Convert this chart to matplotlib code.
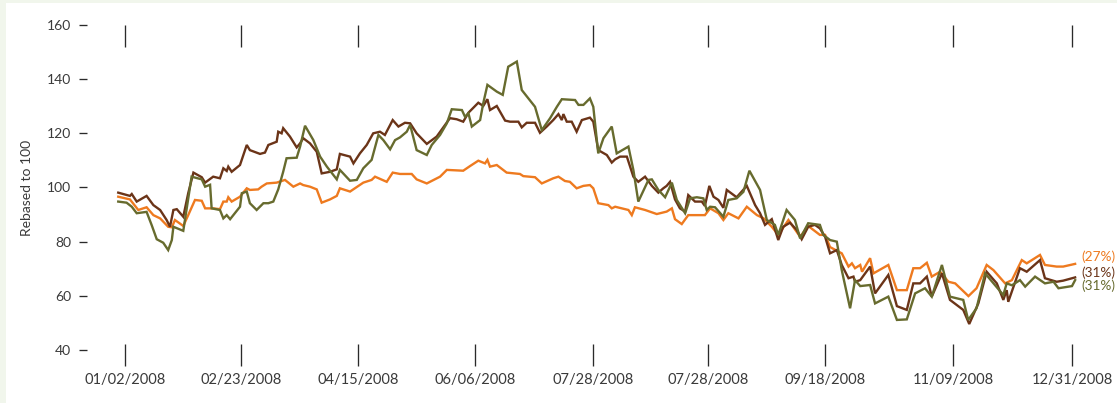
import matplotlib
matplotlib.use("Agg")
import matplotlib.pyplot as plt
from matplotlib.patches import Rectangle

# ---------------- data (x = days since 01/02/2008 on the chart's axis, y = rebased value) -------------
orange_series = [
    (-2.6, 96.6), (1.9, 95.6), (5.1, 91.7), (8.3, 92.7), (10.9, 89.8), (13.5, 88.6), (16.6, 85.5),
    (18.0, 85.3), (19.2, 88.0), (22.4, 85.8), (24.3, 89.8), (26.9, 95.4), (29.5, 95.1), (30.8, 92.3),
    (33.9, 92.3), (36.5, 92.0), (37.8, 94.8), (39.1, 94.8), (39.7, 96.4), (41.0, 94.8), (44.2, 96.6),
    (46.8, 99.7), (48.0, 99.1), (51.2, 99.3), (52.5, 100.3), (54.5, 101.5), (58.3, 101.8), (61.5, 102.8),
    (64.7, 100.3), (67.3, 101.5), (68.5, 100.9), (71.1, 100.3), (73.7, 99.3), (75.6, 94.4), (78.8, 95.6),
    (81.4, 96.9), (82.6, 99.7), (86.5, 98.5), (91.6, 101.8), (94.8, 102.8), (96.1, 104.0), (100.6, 102.1),
    (102.9, 105.5), (105.7, 105.0), (110.2, 105.0), (112.1, 103.0), (116.0, 101.5), (121.1, 104.0),
    (123.7, 106.5), (130.0, 106.2), (132.6, 107.9), (135.8, 109.9), (138.4, 108.9), (139.3, 110.2),
    (140.3, 107.7), (142.9, 108.3), (146.7, 105.5), (151.8, 105.0), (153.1, 104.2), (157.6, 103.8),
    (160.2, 101.5), (164.6, 103.4), (166.6, 104.0), (169.1, 102.4), (171.0, 102.1), (173.6, 99.7),
    (176.2, 100.6), (178.7, 100.9), (180.0, 99.7), (181.9, 94.2), (185.8, 93.5), (187.1, 92.3),
    (188.4, 92.9), (193.5, 91.7), (194.8, 89.8), (196.0, 92.7), (199.9, 91.7), (204.4, 90.2),
    (208.2, 91.1), (210.2, 92.3), (211.4, 88.3), (214.0, 86.5), (216.5, 89.8), (222.9, 89.8),
    (224.9, 92.3), (228.1, 90.5), (230.0, 88.0), (231.9, 90.5), (235.8, 88.6), (239.0, 92.9),
    (242.9, 89.8), (245.5, 88.6), (248.6, 85.5), (251.1, 82.5), (255.0, 88.0), (259.5, 81.8),
    (262.6, 85.8), (267.1, 82.5), (269.1, 82.5), (271.0, 78.0), (275.5, 75.7), (278.1, 70.8),
    (279.4, 72.0), (280.6, 70.2), (282.6, 71.4), (283.3, 68.9), (286.4, 73.9), (287.7, 68.3),
    (293.4, 71.4), (296.7, 62.1), (300.5, 62.1), (303.0, 70.2), (305.6, 70.2), (308.2, 72.2),
    (310.1, 67.1), (313.3, 68.9), (316.5, 65.2), (319.1, 64.6), (324.2, 59.9), (327.3, 62.8),
    (331.2, 71.4), (333.8, 69.5), (338.3, 64.6), (340.9, 65.8), (344.7, 73.2), (346.6, 72.0),
    (351.7, 75.1), (353.6, 71.4), (358.1, 70.8), (360.6, 70.8), (365.2, 71.8),
]

brown_series = [
    (-2.6, 98.1), (1.9, 96.9), (2.6, 97.6), (4.5, 94.8), (8.3, 96.9), (10.9, 93.5), (13.5, 91.7),
    (16.0, 88.0), (17.3, 85.5), (18.6, 91.7), (19.9, 92.0), (22.4, 89.2), (24.3, 97.9), (26.3, 105.5),
    (29.5, 103.8), (30.8, 101.8), (33.9, 104.0), (36.5, 103.4), (37.8, 107.1), (39.1, 106.1),
    (39.7, 107.7), (41.0, 105.8), (44.2, 108.3), (46.8, 115.7), (48.0, 113.8), (51.9, 112.4),
    (53.8, 112.9), (55.1, 115.7), (58.3, 116.9), (58.9, 120.6), (60.2, 120.0), (60.8, 121.9),
    (63.4, 118.8), (66.0, 114.8), (67.3, 116.3), (68.5, 118.2), (71.1, 116.3), (73.7, 113.2),
    (75.6, 105.2), (78.8, 105.8), (81.4, 106.7), (82.6, 112.4), (86.5, 111.4), (87.8, 108.9),
    (90.3, 112.6), (92.9, 115.7), (95.4, 120.0), (98.0, 120.6), (99.9, 119.4), (102.9, 124.9),
    (105.1, 122.5), (107.6, 123.9), (109.6, 123.7), (112.1, 120.0), (116.0, 116.1), (119.8, 118.8),
    (123.0, 123.1), (124.9, 125.6), (127.5, 125.2), (130.0, 124.3), (132.0, 127.6), (135.8, 131.3),
    (137.7, 130.1), (139.3, 132.6), (140.3, 128.6), (142.9, 130.1), (146.1, 124.7), (148.0, 124.3),
    (151.2, 124.3), (152.5, 122.2), (154.4, 123.9), (157.6, 123.9), (159.5, 120.2), (162.1, 122.5),
    (164.6, 124.9), (166.6, 127.1), (167.9, 124.9), (168.5, 127.1), (169.8, 124.3), (171.7, 124.3),
    (173.6, 120.6), (175.6, 124.9), (178.7, 125.8), (180.0, 124.3), (181.9, 113.8), (185.2, 112.0),
    (187.1, 109.2), (188.4, 110.4), (190.3, 111.4), (192.9, 111.4), (195.4, 104.0), (197.3, 102.1),
    (199.9, 104.0), (202.5, 100.6), (205.0, 98.1), (206.9, 99.7), (208.2, 100.6), (209.5, 102.1),
    (211.4, 95.6), (213.3, 92.3), (215.3, 91.1), (216.5, 97.2), (219.1, 94.8), (221.7, 94.8),
    (222.9, 93.2), (224.6, 100.6), (226.2, 96.6), (228.1, 95.4), (230.0, 92.5), (231.3, 99.1),
    (235.1, 96.4), (239.0, 100.6), (242.2, 93.5), (244.1, 90.5), (246.0, 86.2), (248.6, 88.3),
    (251.1, 80.6), (253.0, 85.5), (255.6, 87.0), (258.2, 84.3), (260.1, 80.9), (262.6, 85.5),
    (265.2, 86.2), (267.1, 84.9), (269.1, 81.8), (271.0, 75.7), (273.6, 76.9), (275.5, 71.4),
    (278.1, 66.5), (280.0, 67.1), (280.6, 65.2), (282.6, 65.8), (286.4, 70.8), (288.3, 60.9),
    (293.4, 67.7), (296.7, 56.2), (300.5, 54.8), (303.0, 64.6), (305.6, 64.6), (308.2, 67.1),
    (310.1, 59.7), (314.0, 68.3), (317.1, 58.5), (322.2, 54.8), (324.5, 49.6), (328.0, 57.2),
    (331.2, 68.9), (335.1, 64.6), (337.6, 58.5), (338.9, 62.1), (339.5, 57.8), (344.0, 70.2),
    (346.6, 68.9), (351.7, 73.2), (353.6, 66.5), (358.1, 65.2), (360.6, 65.6), (365.2, 66.8),
]

green_series = [
    (-2.6, 94.8), (0.6, 94.4), (2.6, 92.9), (4.5, 90.5), (8.3, 91.0), (10.3, 86.0), (12.2, 80.9),
    (14.7, 79.6), (16.6, 76.9), (18.0, 80.6), (18.6, 85.5), (22.4, 84.0), (25.6, 104.0), (29.5, 103.0),
    (30.8, 100.3), (32.7, 101.0), (33.3, 92.3), (36.5, 91.7), (37.8, 88.6), (39.1, 89.8), (40.4, 88.3),
    (44.2, 92.9), (44.9, 97.9), (46.8, 98.5), (48.0, 94.2), (50.6, 91.7), (53.2, 94.2), (55.1, 94.2),
    (57.0, 94.8), (58.9, 99.3), (60.8, 105.8), (62.1, 110.8), (66.0, 111.0), (67.3, 115.1),
    (69.2, 122.8), (72.4, 117.5), (75.0, 111.4), (77.6, 107.7), (81.4, 103.0), (82.6, 106.5),
    (86.5, 102.5), (89.1, 102.8), (91.6, 107.1), (94.8, 110.2), (97.4, 119.4), (99.3, 117.5),
    (101.9, 114.1), (103.8, 117.5), (105.7, 118.5), (108.3, 120.6), (109.6, 123.1), (112.1, 113.8),
    (116.0, 112.0), (117.9, 115.7), (121.1, 119.4), (123.7, 123.7), (125.6, 128.9), (129.5, 128.6),
    (130.7, 126.1), (132.0, 127.4), (133.3, 122.5), (136.5, 124.9), (137.7, 131.1), (139.3, 137.9),
    (142.9, 135.4), (145.2, 134.2), (147.3, 144.6), (150.6, 146.5), (152.5, 136.0), (157.6, 129.8),
    (160.2, 121.2), (163.4, 125.6), (166.0, 129.8), (167.9, 132.6), (173.0, 132.3), (174.3, 130.5),
    (176.2, 130.5), (178.7, 132.9), (180.0, 129.8), (181.9, 112.6), (183.9, 118.2), (187.1, 122.5),
    (189.0, 112.6), (193.5, 115.1), (195.4, 106.5), (197.3, 94.8), (201.2, 102.8), (202.5, 103.0),
    (205.0, 99.1), (207.6, 96.4), (210.2, 101.8), (212.1, 95.4), (215.3, 90.5), (217.2, 96.0),
    (219.8, 96.4), (222.3, 96.0), (223.6, 91.7), (224.9, 92.9), (226.8, 92.7), (230.0, 89.2),
    (231.9, 95.4), (235.1, 96.0), (237.7, 98.4), (240.0, 106.2), (244.1, 99.1), (246.7, 88.0),
    (249.8, 86.2), (251.1, 82.5), (254.3, 91.7), (257.5, 88.0), (259.5, 81.2), (262.6, 86.8),
    (267.1, 86.2), (268.4, 82.5), (271.0, 80.6), (273.6, 80.0), (275.5, 69.5), (278.7, 55.4),
    (280.6, 65.8), (282.6, 63.6), (286.4, 64.0), (288.3, 57.2), (293.4, 59.7), (296.7, 51.1),
    (300.5, 51.3), (303.7, 60.9), (307.5, 62.8), (310.1, 59.7), (314.0, 71.4), (317.1, 59.7),
    (322.2, 58.5), (324.1, 51.1), (327.3, 55.4), (330.6, 68.3), (337.6, 60.3), (338.9, 64.6),
    (340.9, 63.9), (344.0, 65.8), (346.0, 63.4), (349.8, 67.1), (353.6, 64.6), (356.9, 65.2),
    (358.8, 62.8), (364.0, 63.6), (365.2, 65.8),
]

end_labels = ["(27%)", "(31%)", "(31%)"]
end_label_values = [74.6, 68.7, 63.6]

x_tick_days = [0, 44.6, 89.6, 134.5, 179.9, 224.1, 269.1, 318.3, 364]
x_tick_labels = ["01/02/2008", "02/23/2008", "04/15/2008", "06/06/2008", "07/28/2008",
                 "07/28/2008", "09/18/2008", "11/09/2008", "12/31/2008"]
y_ticks = [40, 60, 80, 100, 120, 140, 160]

# ---------------- style ----------------
ORANGE = "#ee7a1f"
BROWN = "#6b3418"
GREEN = "#676b2e"
TEXT = "#3a3a3a"
TICK = "#2a2a2a"
plt.rcParams["font.family"] = ["Lato", "DejaVu Sans"]

W, H = 1117, 403
fig = plt.figure(figsize=(W / 100, H / 100), dpi=100, facecolor="#f1f6ec")
fig.patches.append(Rectangle((6 / W, 0), 1 - 6 / W, 1 - 3 / H, transform=fig.transFigure,
                             facecolor="white", edgecolor="none", zorder=-10))

left_px, right_px = 87, 1078
px_per_day = 947 / 364.0
xmin = -(125 - left_px) / px_per_day
xmax = (right_px - 125) / px_per_day

# data axes (y from 40 at px 350 to 160 at px 25)
ax = fig.add_axes([left_px / W, 1 - 350 / H, (right_px - left_px) / W, 325 / H])
ax.set_facecolor("none")
ax.set_xlim(xmin, xmax)
ax.set_ylim(40, 160)
for s in ax.spines.values():
    s.set_visible(False)
ax.set_xticks([])
ax.set_yticks(y_ticks)
ax.tick_params(axis="y", direction="out", length=5.8, width=0.95, color=TICK,
               pad=5.8, labelsize=10, labelcolor=TEXT)

for series, col in [(orange_series, ORANGE), (brown_series, BROWN), (green_series, GREEN)]:
    xs = [p[0] for p in series]
    ys = [p[1] for p in series]
    ax.plot(xs, ys, color=col, lw=1.7, solid_joinstyle="miter", clip_on=False)

for lab, val, col in zip(end_labels, end_label_values, [ORANGE, BROWN, GREEN]):
    ax.text(xmax + 3 / px_per_day, val, lab, color=col, fontsize=9.8, va="center", ha="left",
            clip_on=False)

# tick axes for the long vertical date ticks at top and bottom
axt = fig.add_axes([left_px / W, 1 - 344 / H, (right_px - left_px) / W, (344 - 47) / H])
axt.set_facecolor("none")
axt.set_xlim(xmin, xmax)
axt.set_yticks([])
for s in axt.spines.values():
    s.set_visible(False)
axt.set_xticks(x_tick_days)
axt.set_xticklabels(x_tick_labels)
axt.tick_params(axis="x", top=True, bottom=True, labeltop=False, direction="out",
                length=15.8, width=0.95, color=TICK, pad=5, labelsize=10.5, labelcolor=TEXT)

fig.text(27 / W, 1 - 188 / H, "Rebased to 100", rotation=90, ha="center", va="center",
         fontsize=10, color=TEXT)

fig.savefig("out.png", dpi=100, facecolor=fig.get_facecolor())
